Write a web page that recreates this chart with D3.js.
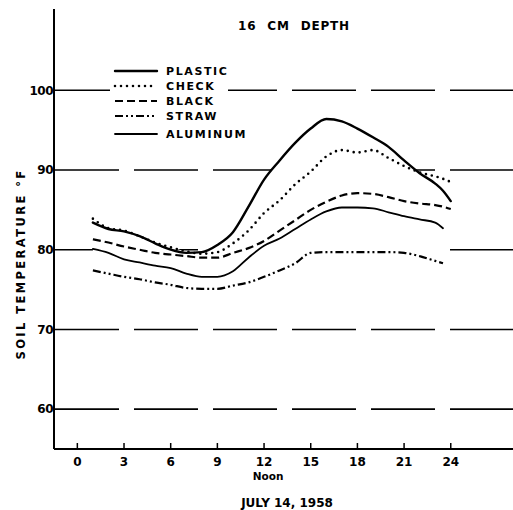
<!DOCTYPE html>
<html>
<head>
<meta charset="utf-8">
<script src="https://cdn.jsdelivr.net/npm/d3@7"></script>
<style>
  body { margin: 0; background: #fff; }
  text { font-family: "DejaVu Sans", sans-serif; font-weight: bold; fill: #000; }
</style>
</head>
<body>
<svg id="chart" width="513" height="510"></svg>
<script>

// ---------------------------
// DATA
// ---------------------------

const hours = [1, 2, 3, 4, 5, 6, 7, 8, 9, 10, 11, 12, 13, 14, 15, 16, 17, 18, 19, 20, 21, 22, 23, 23.5, 24];

const plastic  = [83.4, 82.6, 82.3, 81.7, 80.8, 80.0, 79.6, 79.7, 80.6, 82.2, 85.4, 88.8, 91.2, 93.4, 95.2, 96.4, 96.1, 95.2, 94.1, 92.9, 91.2, 89.6, 88.3, 87.4, 86.1];
const check    = [83.9, 82.7, 82.4, 81.7, 80.9, 80.3, 79.8, 79.5, 79.7, 80.8, 82.4, 84.6, 86.2, 88.2, 89.8, 91.7, 92.5, 92.2, 92.5, 91.5, 90.5, 89.7, 89.2, 88.9, 88.5];
const black    = [81.3, 80.9, 80.4, 80.0, 79.6, 79.4, 79.2, 79.0, 79.0, 79.6, 80.2, 81.1, 82.4, 83.7, 85.0, 86.0, 86.8, 87.1, 87.0, 86.6, 86.1, 85.8, 85.6, 85.4, 85.1];
const straw    = [77.4, 77.0, 76.6, 76.3, 75.9, 75.6, 75.2, 75.1, 75.1, 75.5, 75.9, 76.6, 77.4, 78.3, 79.6, 79.7, 79.7, 79.7, 79.7, 79.7, 79.6, 79.2, 78.6, 78.3, null];
const aluminum = [80.1, 79.6, 78.8, 78.4, 78.0, 77.7, 77.0, 76.6, 76.6, 77.3, 79.0, 80.5, 81.4, 82.6, 83.8, 84.8, 85.3, 85.3, 85.2, 84.7, 84.2, 83.8, 83.4, 82.7, null];

const seriesNames = ["PLASTIC", "CHECK", "BLACK", "STRAW", "ALUMINUM"];
const xTicks = [0, 3, 6, 9, 12, 15, 18, 21, 24];
const yTicks = [60, 70, 80, 90, 100];

// line style per series
const styles = {
    PLASTIC:  { width: 2.4, dash: null, cap: "round" },
    CHECK:    { width: 2.6, dash: "0,6", cap: "round" },
    BLACK:    { width: 2.2, dash: "8,4", cap: "butt" },
    STRAW:    { width: 2.2, dash: "8,3,2,3,2,3", cap: "butt" },
    ALUMINUM: { width: 1.8, dash: null, cap: "round" }
};

const seriesData = {
    PLASTIC: plastic, CHECK: check, BLACK: black, STRAW: straw, ALUMINUM: aluminum
};


// ---------------------------
// SCALES
// ---------------------------

const svg = d3.select("#chart");

const xScale = d3.scaleLinear().domain([-1.5, 28]).range([54, 513]);
const yScale = d3.scaleLinear().domain([55, 110.2]).range([449, 9]);

const curve = d3.curveMonotoneX;


// ---------------------------
// GRIDLINES
// ---------------------------

svg.append("g")
    .selectAll("line")
    .data(yTicks)
    .join("line")
    .attr("x1", 55)
    .attr("x2", 513)
    .attr("y1", d => yScale(d))
    .attr("y2", d => yScale(d))
    .attr("stroke", "#000")
    .attr("stroke-width", 1.6)
    .attr("stroke-dasharray", "64,15");

// white band between the lowest and highest curve hides the gridlines there
const band = hours.map((h, i) => {
    const vals = seriesNames.map(n => seriesData[n][i]).filter(v => v !== null);
    return { h, lo: d3.min(vals), hi: d3.max(vals) };
});

svg.append("path")
    .datum(band)
    .attr("fill", "#fff")
    .attr("d", d3.area()
        .x(d => xScale(d.h))
        .y0(d => yScale(d.lo))
        .y1(d => yScale(d.hi))
        .curve(curve));


// ---------------------------
// CURVES
// ---------------------------

const line = d3.line()
    .defined(d => d.v !== null)
    .x(d => xScale(d.h))
    .y(d => yScale(d.v))
    .curve(curve);

svg.append("g")
    .selectAll("path")
    .data(seriesNames)
    .join("path")
    .attr("fill", "none")
    .attr("stroke", "#000")
    .attr("stroke-width", d => styles[d].width)
    .attr("stroke-dasharray", d => styles[d].dash)
    .attr("stroke-linecap", d => styles[d].cap)
    .attr("d", d => line(hours.map((h, i) => ({ h, v: seriesData[d][i] }))));


// ---------------------------
// AXES
// ---------------------------

svg.append("line")
    .attr("x1", 54).attr("x2", 54)
    .attr("y1", 9).attr("y2", 449)
    .attr("stroke", "#000").attr("stroke-width", 2);

svg.append("line")
    .attr("x1", 54).attr("x2", 513)
    .attr("y1", 449).attr("y2", 449)
    .attr("stroke", "#000").attr("stroke-width", 2);

// x ticks point up into the plot
svg.append("g")
    .selectAll("line")
    .data(xTicks)
    .join("line")
    .attr("x1", d => xScale(d))
    .attr("x2", d => xScale(d))
    .attr("y1", 449)
    .attr("y2", 443)
    .attr("stroke", "#000")
    .attr("stroke-width", 1.5);

svg.append("g")
    .selectAll("text")
    .data(xTicks)
    .join("text")
    .attr("x", d => xScale(d))
    .attr("y", 466)
    .attr("text-anchor", "middle")
    .attr("font-size", "12px")
    .text(d => d);

svg.append("text")
    .attr("x", xScale(12) + 4)
    .attr("y", 480)
    .attr("text-anchor", "middle")
    .attr("font-size", "10.5px")
    .text("Noon");

svg.append("g")
    .selectAll("text")
    .data(yTicks)
    .join("text")
    .attr("x", 53)
    .attr("y", d => yScale(d))
    .attr("dy", "0.36em")
    .attr("text-anchor", "end")
    .attr("font-size", "12px")
    .attr("letter-spacing", "-0.5px")
    .text(d => d);

svg.append("text")
    .attr("transform", "translate(25,264) rotate(-90)")
    .attr("text-anchor", "middle")
    .attr("font-size", "11.5px")
    .attr("letter-spacing", "2.4px")
    .text("SOIL TEMPERATURE °F");

svg.append("text")
    .attr("x", 294)
    .attr("y", 30)
    .attr("text-anchor", "middle")
    .attr("font-size", "12px")
    .attr("letter-spacing", "0.8px")
    .attr("word-spacing", "6px")
    .text("16 CM DEPTH");

svg.append("text")
    .attr("x", 287)
    .attr("y", 507)
    .attr("text-anchor", "middle")
    .attr("font-size", "12px")
    .text("JULY 14, 1958");


// ---------------------------
// LEGEND
// ---------------------------

const legendY = [71, 86, 101, 116, 134];

svg.append("rect")
    .attr("x", 110)
    .attr("y", 62)
    .attr("width", 118)
    .attr("height", 80)
    .attr("fill", "#fff");

const legend = svg.append("g")
    .selectAll("g")
    .data(seriesNames)
    .join("g")
    .attr("transform", (d, i) => `translate(0,${legendY[i]})`);

legend.append("line")
    .attr("x1", 115)
    .attr("x2", 157)
    .attr("stroke", "#000")
    .attr("stroke-width", d => styles[d].width)
    .attr("stroke-dasharray", d => styles[d].dash)
    .attr("stroke-linecap", d => styles[d].cap);

legend.append("text")
    .attr("x", 166)
    .attr("dy", "0.38em")
    .attr("font-size", "11px")
    .attr("letter-spacing", "1.6px")
    .text(d => d);

</script>
</body>
</html>
